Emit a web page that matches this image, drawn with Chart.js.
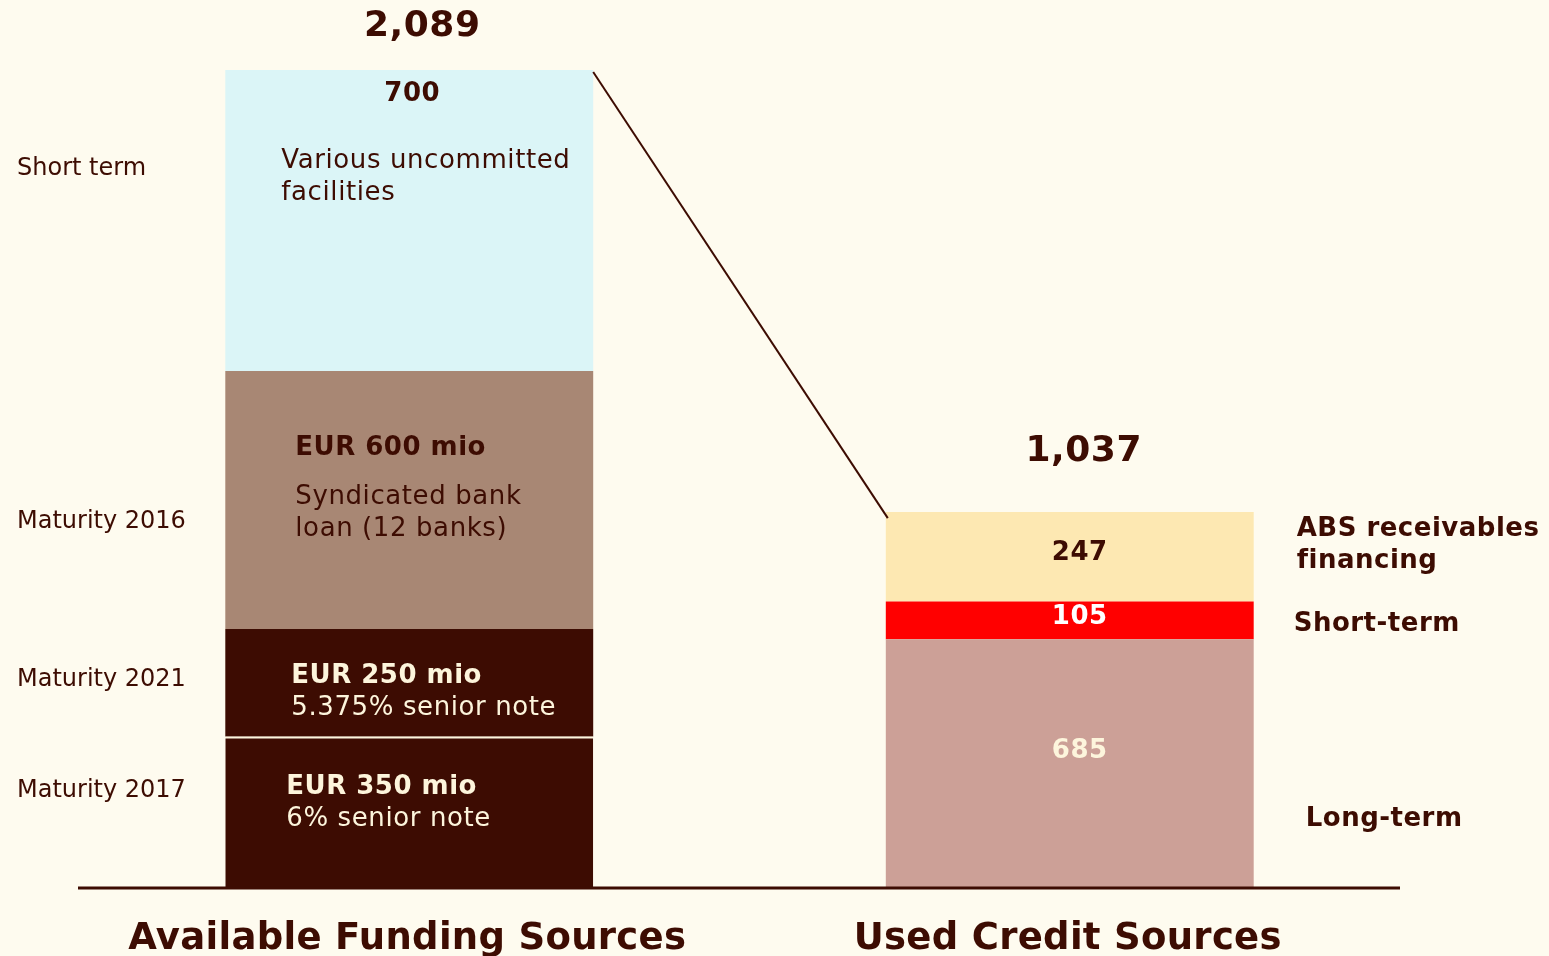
<!DOCTYPE html>
<html>
<head>
<meta charset="utf-8">
<title>Funding sources</title>
<script src="https://cdn.jsdelivr.net/npm/chart.js@4.4.0/dist/chart.umd.min.js"></script>
<style>
    html, body { margin: 0; padding: 0; background: #fefbef; }
    #wrap { width: 1549px; height: 956px; overflow: hidden; }
</style>
</head>
<body>
<div id="wrap"><canvas id="fundingChart" width="1549" height="956"></canvas></div>
<script>
const categories = ["Available Funding Sources", "Used Credit Sources"];
const totals = ["2,089", "1,037"];

// available funding, bottom to top (EUR mio)
const availableValues = [350, 250, 600, 700];
const availableTitles = ["EUR 350 mio", "EUR 250 mio", "EUR 600 mio", "700"];
const availableNotes = [
    ["6% senior note"],
    ["5.375% senior note"],
    ["Syndicated bank", "loan (12 banks)"],
    ["Various uncommitted", "facilities"],
];
const availableTerms = ["Maturity 2017", "Maturity 2021", "Maturity 2016", "Short term"];

// used credit, bottom to top
const usedValues = [685, 105, 247];
const usedTerms = [["Long-term"], ["Short-term"], ["ABS receivables", "financing"]];

const INK = "#3d0c02";
const CREAM = "#fdf5dc";
const FONT = '"DejaVu Sans", Verdana, sans-serif';

const availableColors = ["#3d0c02", "#3d0c02", "#a88774", "#dbf5f7"];
const usedColors = ["#cca097", "#ff0000", "#fde8b2"];

// text placement inside / beside each segment (offsets from segment centre)
const availableLayout = [
    { dx: 61, titleDy: -25, noteDy: 7, termDy: -21, color: CREAM },
    { dx: 66, titleDy: -7, noteDy: 25, termDy: -3, color: CREAM },
    { dx: 70, titleDy: -52, noteDy: -3, termDy: 22, color: INK },
    { dx: 56, titleDy: -126, noteDy: -59, termDy: -52, color: INK, centred: true },
];
const usedLayout = [
    { valueDy: -12, termDy: 56, termDx: 52, color: CREAM },
    { valueDy: -3, termDy: 4, termDx: 40, color: "#ffffff" },
    { valueDy: -4, termDy: -28, termDx: 43, color: INK },
];

const datasets = [];
availableValues.forEach((v, i) => {
    datasets.push({
        label: availableTitles[i],
        data: [v, null],
        backgroundColor: availableColors[i],
        borderColor: CREAM,
        borderWidth: i === 0 ? { top: 2 } : 0,
        borderSkipped: false,
        yAxisID: "y",
    });
});
usedValues.forEach((v, i) => {
    datasets.push({
        label: usedTerms[i].join(" "),
        data: [null, v],
        backgroundColor: usedColors[i],
        borderWidth: 0,
        yAxisID: "y2",
    });
});

function drawLines(ctx, lines, x, y, lineHeight) {
    lines.forEach((line, k) => ctx.fillText(line, x, y + k * lineHeight));
}

const annotations = {
    id: "fundingAnnotations",
    afterDatasetsDraw(chart) {
        const { ctx, chartArea, scales } = chart;
        ctx.save();

        // base line
        ctx.strokeStyle = INK;
        ctx.lineWidth = 3;
        ctx.beginPath();
        ctx.moveTo(chartArea.left - 1, chartArea.bottom + 1);
        ctx.lineTo(chartArea.right, chartArea.bottom + 1);
        ctx.stroke();

        ctx.textBaseline = "middle";

        // left bar segments
        availableValues.forEach((v, i) => {
            const bar = chart.getDatasetMeta(i).data[0];
            const lay = availableLayout[i];
            const left = bar.x - bar.width / 2;
            const mid = (bar.y + bar.base) / 2;
            ctx.fillStyle = lay.color;
            ctx.font = "bold 26px " + FONT;
            ctx.letterSpacing = "0.5px";
            if (lay.centred) {
                ctx.textAlign = "center";
                ctx.fillText(availableTitles[i], bar.x + 3, mid + lay.titleDy);
            } else {
                ctx.textAlign = "left";
                ctx.fillText(availableTitles[i], left + lay.dx, mid + lay.titleDy);
            }
            ctx.textAlign = "left";
            ctx.font = "26px " + FONT;
            ctx.letterSpacing = "0.6px";
            drawLines(ctx, availableNotes[i], left + lay.dx, mid + lay.noteDy, 32);

            ctx.fillStyle = INK;
            ctx.font = "24px " + FONT;
            ctx.letterSpacing = "0px";
            ctx.fillText(availableTerms[i], 17, mid + lay.termDy);
        });

        // right bar segments
        const n = availableValues.length;
        usedValues.forEach((v, i) => {
            const bar = chart.getDatasetMeta(n + i).data[1];
            const lay = usedLayout[i];
            const mid = (bar.y + bar.base) / 2;
            ctx.fillStyle = lay.color;
            ctx.font = "bold 26px " + FONT;
            ctx.letterSpacing = "0.5px";
            ctx.textAlign = "center";
            ctx.fillText(String(v), bar.x + 10, mid + lay.valueDy);

            ctx.fillStyle = INK;
            ctx.font = "bold 26px " + FONT;
            ctx.textAlign = "left";
            drawLines(ctx, usedTerms[i], bar.x + bar.width / 2 + lay.termDx, mid + lay.termDy, 32);
        });

        // totals above the bars
        const leftTop = chart.getDatasetMeta(n - 1).data[0];
        const rightTop = chart.getDatasetMeta(n + usedValues.length - 1).data[1];
        ctx.fillStyle = INK;
        ctx.font = "bold 36px " + FONT;
        ctx.letterSpacing = "0.5px";
        ctx.textAlign = "center";
        ctx.fillText(totals[0], leftTop.x + 13, leftTop.y - 43);
        ctx.fillText(totals[1], rightTop.x + 14, rightTop.y - 60);

        // connector from the top of the available bar to the used bar
        ctx.lineWidth = 2;
        ctx.beginPath();
        ctx.moveTo(leftTop.x + leftTop.width / 2, leftTop.y + 2);
        ctx.lineTo(rightTop.x - rightTop.width / 2 + 2, rightTop.y + 6);
        ctx.stroke();

        // category names under the base line
        ctx.font = "bold 37px " + FONT;
        ctx.letterSpacing = "0.3px";
        categories.forEach((c, i) => {
            ctx.fillText(c, scales.x.getPixelForValue(i) - 2, chartArea.bottom + 52);
        });

        ctx.restore();
    },
};

const config = {
    type: "bar",
    data: { labels: categories, datasets: datasets },
    options: {
        responsive: false,
        animation: false,
        layout: { padding: { left: 79, right: 149, top: 70, bottom: 69 } },
        categoryPercentage: 0.557,
        barPercentage: 1,
        plugins: {
            legend: { display: false },
            tooltip: { enabled: false },
        },
        scales: {
            x: { display: false, stacked: true },
            y: { display: false, stacked: true, min: 0, max: 1900 },
            y2: { display: false, stacked: true, min: 0, max: 2260 },
        },
    },
    plugins: [annotations],
};

const ctx = document.getElementById("fundingChart").getContext("2d");
new Chart(ctx, config);
</script>
</body>
</html>
